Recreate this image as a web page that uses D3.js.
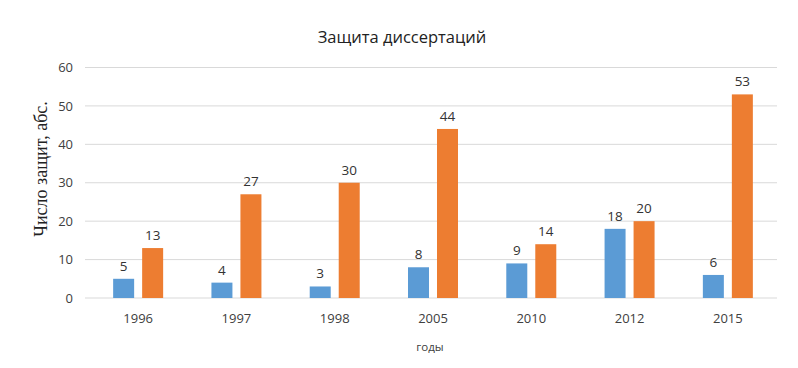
<!DOCTYPE html>
<html><head><meta charset="utf-8">
<script src="https://cdn.jsdelivr.net/npm/d3@7"></script>
<style>body{margin:0;background:#fff;} svg{display:block;}</style>
</head><body>
<svg id="chart" width="798" height="368"></svg>
<script>
const categories = ["1996","1997","1998","2005","2010","2012","2015"];
const seriesA = [5,4,3,8,9,18,6];
const seriesB = [13,27,30,44,14,20,53];
const yTicks = [0,10,20,30,40,50,60];

(function(){
const svg = d3.select("#chart");
const W = 798, H = 368;
svg.append("rect").attr("width",W).attr("height",H).attr("fill","#fff");
const pLeft = 89, pRight = 777, pTop = 67.5, pBottom = 298;

const x = d3.scaleBand().domain(categories).range([pLeft,pRight]).paddingInner(0).paddingOuter(0);
const y = d3.scaleLinear().domain([0,60]).range([pBottom, pTop]);

svg.append("g").selectAll("line").data(yTicks).join("line")
  .attr("x1",pLeft-4).attr("x2",pRight).attr("y1",d=>y(d)).attr("y2",d=>y(d))
  .attr("stroke","#d9d9d9").attr("stroke-width",1);

const yAxis = d3.axisLeft(y).tickValues(yTicks).tickSize(0).tickPadding(0);
const gy = svg.append("g").attr("transform",`translate(73,0)`).call(yAxis);
gy.select(".domain").remove();
gy.selectAll("text").attr("font-family","Open Sans, sans-serif").attr("font-size","13px").attr("fill","#404040");

const xAxis = d3.axisBottom(x).tickSize(0).tickPadding(0);
const gx = svg.append("g").attr("transform",`translate(0,314)`).call(xAxis);
gx.select(".domain").remove();
gx.selectAll("text").attr("font-family","Open Sans, sans-serif").attr("font-size","13px").attr("fill","#404040");

const barW = 21, gap = 8;
const groups = svg.append("g").selectAll("g").data(categories).join("g");
const cx = d => x(d) + x.bandwidth()/2;

groups.append("rect")
  .attr("x",(d)=>cx(d)-gap/2-barW).attr("width",barW)
  .attr("y",(d,i)=>y(seriesA[i])).attr("height",(d,i)=>y(0)-y(seriesA[i]))
  .attr("fill","#5B9BD5");
groups.append("rect")
  .attr("x",(d)=>cx(d)+gap/2).attr("width",barW)
  .attr("y",(d,i)=>y(seriesB[i])).attr("height",(d,i)=>y(0)-y(seriesB[i]))
  .attr("fill","#ED7D31");

groups.append("text")
  .attr("x",(d)=>cx(d)-gap/2-barW/2).attr("y",(d,i)=>y(seriesA[i])-8)
  .attr("text-anchor","middle").attr("font-family","Open Sans, sans-serif").attr("font-size","13.5px").attr("fill","#333")
  .text((d,i)=>seriesA[i]);
groups.append("text")
  .attr("x",(d)=>cx(d)+gap/2+barW/2).attr("y",(d,i)=>y(seriesB[i])-8)
  .attr("text-anchor","middle").attr("font-family","Open Sans, sans-serif").attr("font-size","13.5px").attr("fill","#333")
  .text((d,i)=>seriesB[i]);

svg.append("text").attr("x",402).attr("y",43).attr("text-anchor","middle")
  .attr("font-family","Open Sans, sans-serif").attr("font-size","16.5px").attr("fill","#222")
  .text("Защита диссертаций");

svg.append("text").attr("transform","translate(47,169) rotate(-90)").attr("text-anchor","middle")
  .attr("font-family","Liberation Serif, serif").attr("font-size","18px").attr("fill","#222")
  .text("Число защит, абс.");

svg.append("text").attr("x",430).attr("y",351).attr("text-anchor","middle")
  .attr("font-family","Open Sans, sans-serif").attr("font-size","11.5px").attr("fill","#404040")
  .text("годы");
})();
</script>
</body></html>
